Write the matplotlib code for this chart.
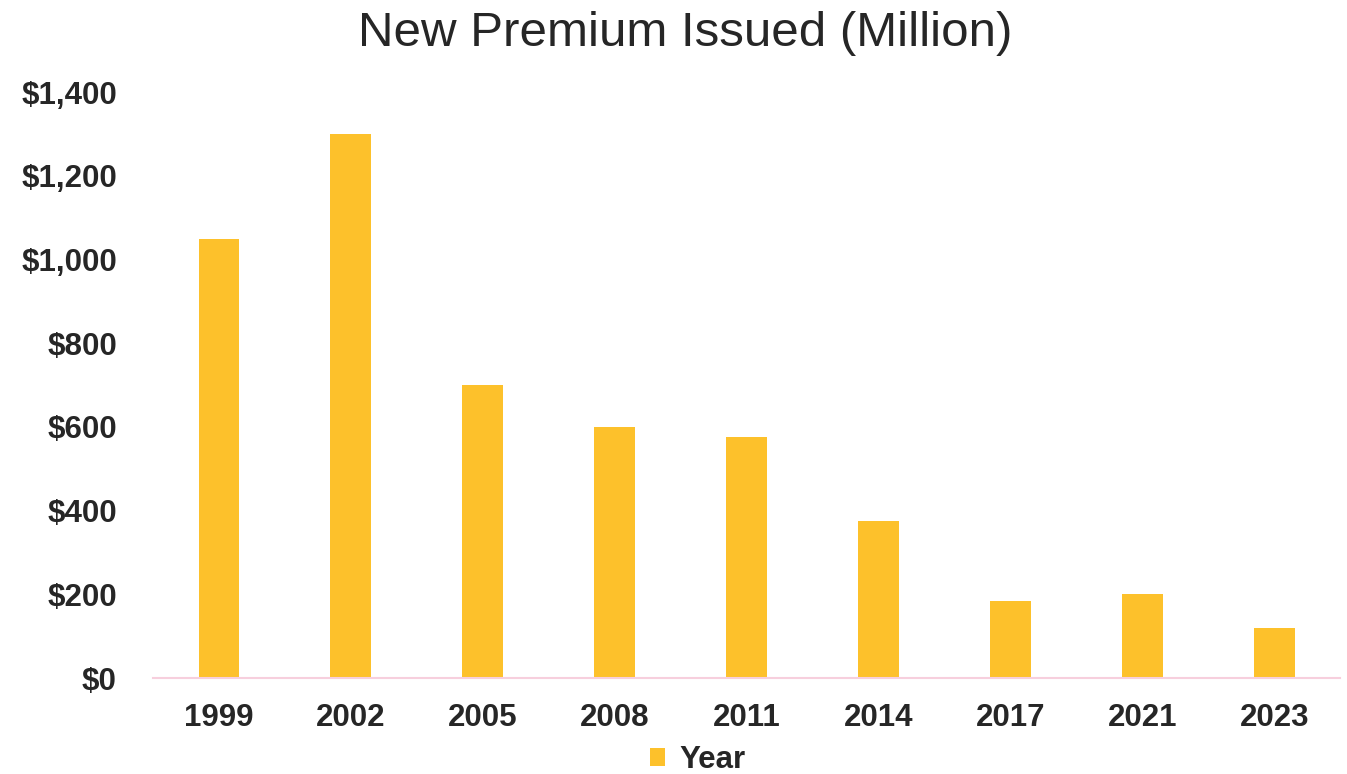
#! /usr/bin/env python3

import matplotlib
matplotlib.use('Agg')
import matplotlib.pyplot as plt
from matplotlib.ticker import FuncFormatter

# Data
years = ['1999', '2002', '2005', '2008', '2011', '2014', '2017', '2021', '2023']
premium = [1050, 1300, 700, 600, 575, 375, 183, 200, 120]

plt.rcParams['font.family'] = ['Liberation Sans', 'DejaVu Sans']

bar_color = '#FDC12B'
text_color = '#262626'

fig = plt.figure(figsize=(13.47, 7.74), dpi=100)
ax = fig.add_axes([0.1136, 0.124, 0.8814, 0.757])

x = range(len(years))
ax.bar(x, premium, width=0.31, color=bar_color, label='Year', zorder=2)

ax.set_xlim(-0.5, len(years) - 0.5)
ax.set_ylim(0, 1400)
ax.set_yticks(range(0, 1401, 200))
ax.yaxis.set_major_formatter(FuncFormatter(lambda v, p: '${:,.0f}'.format(v)))
ax.set_xticks(list(x))
ax.set_xticklabels(years)

# Axis styling
for side in ['top', 'right', 'left']:
    ax.spines[side].set_visible(False)
ax.spines['bottom'].set_color('#F7CFDD')
ax.spines['bottom'].set_linewidth(1.5)
ax.tick_params(axis='both', length=0, labelsize=22.5, labelcolor=text_color)
ax.tick_params(axis='x', pad=18)
ax.tick_params(axis='y', pad=26)
for lab in ax.get_xticklabels() + ax.get_yticklabels():
    lab.set_fontweight('bold')

fig.text(0.509, 0.957, 'New Premium Issued (Million)', ha='center', va='center',
         fontsize=35.5, color=text_color)

leg = fig.legend(loc='center', bbox_to_anchor=(0.518, 0.018), frameon=False,
                 fontsize=22.5, handlelength=0.5, handleheight=0.5,
                 handletextpad=0.45, borderpad=0)
for t in leg.get_texts():
    t.set_fontweight('bold')
    t.set_color(text_color)

fig.savefig('out.png', dpi=100)
